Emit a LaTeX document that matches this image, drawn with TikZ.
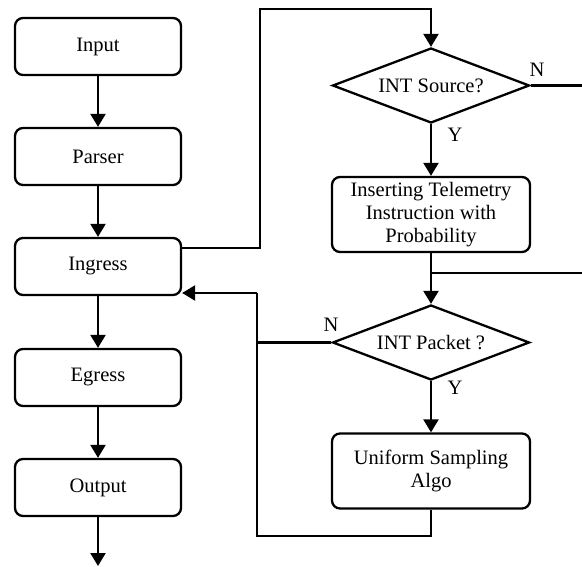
\documentclass[tikz,border=0pt]{standalone}
\usepackage{fontspec}
\setmainfont{Liberation Serif}
\usetikzlibrary{shapes.geometric,arrows.meta}
\begin{document}
\begin{tikzpicture}[x=1pt,y=-1pt,line width=2.3pt,
  every node/.style={font=\fontsize{20.5}{23}\selectfont},
  procbox/.style={draw,rounded corners=8pt,minimum width=166pt,minimum height=57pt,inner sep=0pt,align=center},
  widebox/.style={draw,rounded corners=8pt,minimum width=198pt,minimum height=75pt,inner sep=0pt,align=center},
  decision/.style={draw,diamond,aspect=2.63,minimum width=197pt,minimum height=75pt,inner sep=0pt,line join=miter},
  arr/.style={-{Triangle[length=13pt,width=15pt]}},
  lbl/.style={inner sep=0pt}]
\useasboundingbox (0,0) rectangle (582,567);
\node[procbox] (input) at (98,46.5) {Input};
\node[procbox] (parser) at (98,156.5) {Parser};
\node[procbox] (ingress) at (98,266.5) {Ingress};
\node[procbox] (egress) at (98,377.5) {Egress};
\node[procbox] (output) at (98,487.5) {Output};
\coordinate (outend) at (98,566);
\node[decision] (src) at (431,85.5) {INT Source?};
\node[widebox] (ins) at (431,214.5) {Inserting Telemetry\\Instruction with\\Probability};
\node[decision] (pkt) at (431,342.5) {INT Packet ?};
\node[widebox] (uni) at (431,471) {Uniform Sampling\\Algo};
\draw[arr] (input) -- (parser);
\draw[arr] (parser) -- (ingress);
\draw[arr] (ingress) -- (egress);
\draw[arr] (egress) -- (output);
\draw[arr] (output) -- (outend);
% Ingress to INT Source
\coordinate (ia) at (260,248);
\coordinate (ib) at (260,9);
\draw[arr] (ingress.east |- ia) -- (ia) -- (ib) -| (src.north);
% N from source
\coordinate (srcN) at (582,85.5);
\draw (src.east) -- (srcN);
\node[lbl] (n1) at (537,70) {N};
\draw[arr] (src.south) -- (ins.north);
\node[lbl] (y1) at (455,135) {Y};
% merge into INT Packet
\coordinate (mr) at (582,273);
\draw (mr) -- (ins.south |- mr);
\draw[arr] (ins.south) -- (pkt.north);
% N from packet back to ingress
\coordinate (lt) at (257,293);
\coordinate (lb) at (257,536);
\draw (pkt.west) -- (pkt.west -| lt);
\node[lbl] (n2) at (331,325) {N};
\draw[arr] (pkt.south) -- (uni.north);
\node[lbl] (y2) at (455,388) {Y};
\draw (uni.south) |- (lb) -- (lt);
\draw[arr] (lt) -- (ingress.east |- lt);
\end{tikzpicture}
\end{document}
